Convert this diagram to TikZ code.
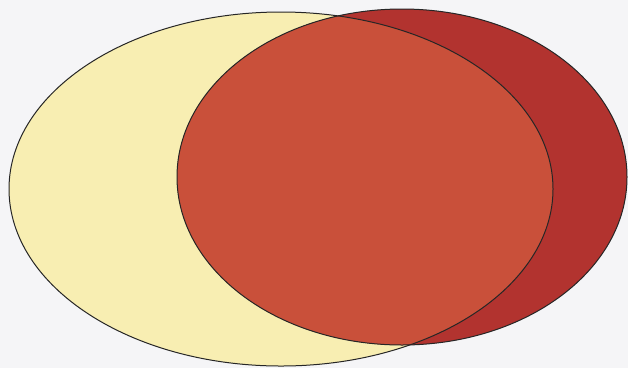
\documentclass[tikz,border=0pt]{standalone}
\definecolor{bgc}{HTML}{F5F5F7}
\definecolor{yellowc}{HTML}{F8EEB2}
\definecolor{orangec}{HTML}{C9503A}
\definecolor{redc}{HTML}{B2332F}
\tikzset{outline/.style={draw=black!85, line width=1pt}}
\begin{document}
\begin{tikzpicture}[x=1pt,y=-1pt]
\fill[bgc] (0,0) rectangle (628,368);
\useasboundingbox (0,0) rectangle (628,368);
% left ellipse A
\fill[yellowc] (281,189) ellipse [x radius=272pt, y radius=177pt];
% right ellipse B
\fill[redc] (402,177) ellipse [x radius=225pt, y radius=168pt];
% intersection
\begin{scope}
\clip (402,177) ellipse [x radius=225pt, y radius=168pt];
\fill[orangec] (281,189) ellipse [x radius=272pt, y radius=177pt];
\end{scope}
\draw[outline] (281,189) ellipse [x radius=272pt, y radius=177pt];
\draw[outline] (402,177) ellipse [x radius=225pt, y radius=168pt];
\end{tikzpicture}
\end{document}
